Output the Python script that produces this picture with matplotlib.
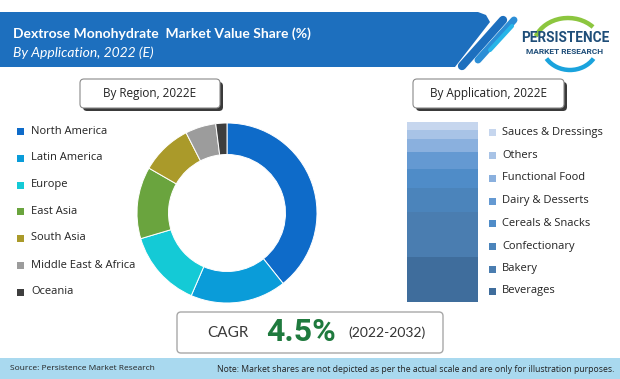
import matplotlib
matplotlib.use("Agg")
import matplotlib.pyplot as plt
from matplotlib.patches import FancyBboxPatch, Rectangle, Polygon, Arc
import numpy as np

W, H = 620, 379

title = "Dextrose Monohydrate  Market Value Share (%)"
subtitle = "By Application, 2022 (E)"

regions = ["North America", "Latin America", "Europe", "East Asia",
           "South Asia", "Middle East & Africa", "Oceania"]
region_share = [39.3, 17.2, 13.9, 12.9, 9.2, 5.5, 2.0]
region_colors = ["#0E6BC9", "#0A9CD9", "#14CAD6", "#6AA43E",
                 "#AA9A2A", "#9C9C9C", "#3E3E3E"]

applications = ["Beverages", "Bakery", "Confectionary", "Cereals & Snacks",
                "Dairy & Desserts", "Functional Food", "Others",
                "Sauces & Dressings"]
app_share = [25.4, 25.0, 13.3, 10.4, 9.6, 7.0, 5.0, 4.3]
app_colors = ["#3F6D9C", "#4A7DB0", "#4B84BB", "#4F8CC8",
              "#6499D2", "#8AB0DE", "#A8C3E6", "#C6D6EE"]

cagr_label = "CAGR"
cagr_value = "4.5%"
cagr_period = "(2022-2032)"
source_text = "Source: Persistence Market Research"
note_text = "Note: Market shares are not depicted as per the actual scale and are only for illustration purposes."

plt.rcParams['font.family'] = ['Open Sans', 'DejaVu Sans']
NARROW = ["Roboto", "DejaVu Sans"]

fig = plt.figure(figsize=(W / 100, H / 100), dpi=100)
fig.patch.set_facecolor("white")

bg = fig.add_axes([0, 0, 1, 1])
bg.set_xlim(0, W)
bg.set_ylim(H, 0)
bg.axis("off")


def px_axes(x0, y0, x1, y1):
    return fig.add_axes([x0 / W, (H - y1) / H, (x1 - x0) / W, (y1 - y0) / H])


# ---- title banner ----
banner = Polygon([[0, 12], [478, 12], [486, 15], [490, 22], [455, 67], [0, 67]],
                 closed=True, facecolor="#1D6FBE", edgecolor="none", zorder=1)
bg.add_patch(banner)
bg.plot([462, 503], [66, 20], color="#1D6FBE", lw=6, solid_capstyle="round", zorder=1)
bg.plot([478, 514], [60, 20], color="#2C8ED6", lw=5, solid_capstyle="round", zorder=1)
bg.plot([490, 512], [50, 26], color="#27B5E8", lw=3, solid_capstyle="round", zorder=1)
bg.text(13, 34, title, color="white", fontsize=10, fontweight="bold",
        family=["Lato", "DejaVu Sans"], va="center", ha="left", zorder=2)
bg.text(13, 53, subtitle, color="white", fontsize=10, fontstyle="italic",
        family=["Lato", "DejaVu Sans"], va="center", ha="left", zorder=2)

# ---- logo ----
bg.add_patch(Arc((568, 48), 70, 60, theta1=200, theta2=320, color="#8CC63F", lw=3.2))
bg.add_patch(Arc((570, 45), 56, 50, theta1=30, theta2=150, color="#1AA3DD", lw=3.2))
bg.text(565, 38, "PERSISTENCE", color="#1F4E79", fontsize=9.8, fontweight="bold",
        family=NARROW, ha="center", va="center")
bg.text(565, 51, "MARKET RESEARCH", color="#1F4E79", fontsize=6, fontweight="bold",
        family=["Roboto", "DejaVu Sans"], ha="center", va="center")


# ---- section header boxes ----
def header_box(x0, x1, y0, y1, label):
    bg.add_patch(FancyBboxPatch((x0 + 3, y0 + 3), x1 - x0, y1 - y0,
                                boxstyle="round,pad=0,rounding_size=4",
                                facecolor="#3A3A3A", edgecolor="none", zorder=2))
    bg.add_patch(FancyBboxPatch((x0, y0), x1 - x0, y1 - y0,
                                boxstyle="round,pad=0,rounding_size=4",
                                facecolor="white", edgecolor="#8A8A8A", lw=0.8, zorder=3))
    bg.text((x0 + x1) / 2, (y0 + y1) / 2, label, fontsize=8.5, color="#222222",
            ha="center", va="center", zorder=4)


header_box(80, 220, 79, 108, "By Region, 2022E")
header_box(413, 564, 79, 108, "By Application, 2022E")

# ---- donut ----
ax1 = px_axes(137, 123, 317, 303)
ax1.pie(region_share, colors=region_colors, startangle=90, counterclock=False,
        radius=1.0, wedgeprops=dict(width=0.35, edgecolor="white", linewidth=0.7))
ax1.set_xlim(-1.0, 1.0)
ax1.set_ylim(-1.0, 1.0)
ax1.set_aspect("equal")
ax1.axis("off")

reg_y = [131, 158, 185, 211, 238, 265, 292]
for name, col, y in zip(regions, region_colors, reg_y):
    bg.add_patch(Rectangle((17, y - 3.5), 7, 7, facecolor=col, edgecolor="none"))
    bg.text(31, y, name, fontsize=8, color="#222222", va="center", ha="left")

# ---- stacked bar ----
ax2 = px_axes(407, 122.3, 478, 302.3)
bottom = 0.0
for val, col in zip(app_share, app_colors):
    ax2.bar(0, val, bottom=bottom, width=1.0, color=col, edgecolor="none")
    bottom += val
ax2.set_xlim(-0.5, 0.5)
ax2.set_ylim(0, sum(app_share))
ax2.axis("off")

app_y = [291, 269, 246, 223, 201, 178, 155, 132]
for name, col, y in zip(applications, app_colors, app_y):
    bg.add_patch(Rectangle((489, y - 3.5), 7, 7, facecolor=col, edgecolor="none"))
    bg.text(502, y, name, fontsize=8, color="#222222", va="center", ha="left")

# ---- CAGR box ----
bg.add_patch(FancyBboxPatch((177, 312), 266, 41, boxstyle="round,pad=0,rounding_size=4",
                            facecolor="white", edgecolor="#A8A8A8", lw=1.0, zorder=2))
bg.text(228, 333, cagr_label, fontsize=11, color="#3A3A3A", ha="center", va="center",
        family=["Lato", "DejaVu Sans"], zorder=3)
bg.text(301, 332, cagr_value, fontsize=23, color="#1F7A3E", ha="center", va="center",
        family=NARROW, fontweight="bold", zorder=3)
bg.text(387, 333, cagr_period, fontsize=10, color="#333333", ha="center", va="center",
        family=["Lato", "DejaVu Sans"], zorder=3)

# ---- footer ----
bg.add_patch(Rectangle((0, 358), W, H - 358, facecolor="#A9D9EF", edgecolor="none"))
bg.text(10, 369, source_text, fontsize=6, color="#222222", ha="left", va="center")
bg.text(614, 369, note_text, fontsize=6.2, color="#222222", ha="right", va="center")

fig.savefig("out.png", dpi=100, facecolor="white")
